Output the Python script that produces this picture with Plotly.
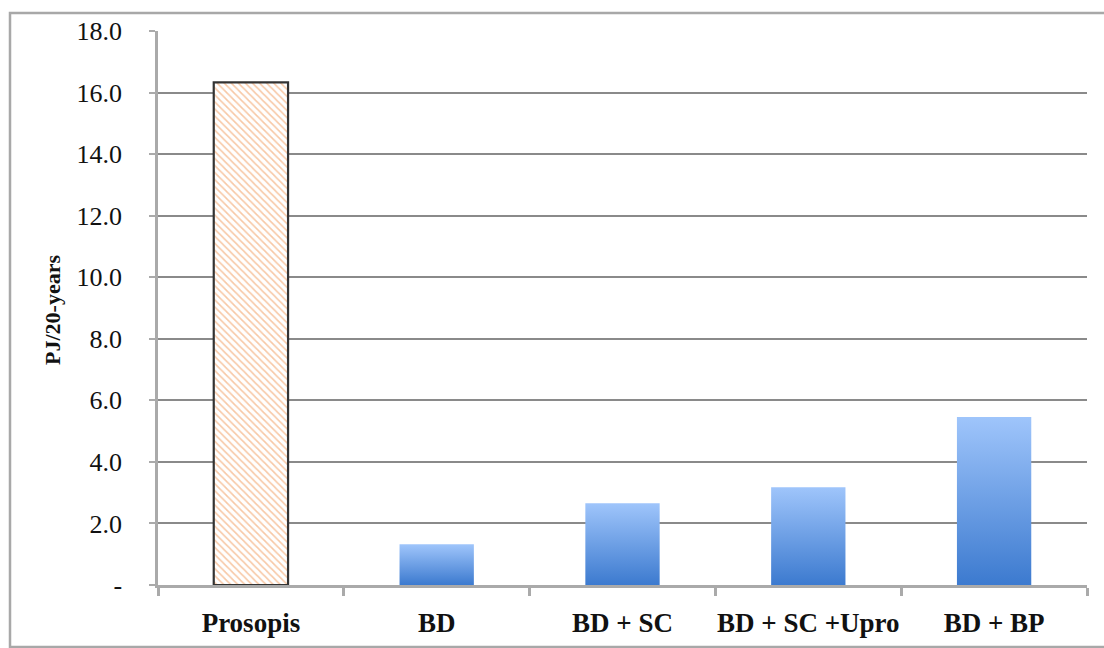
import plotly.graph_objects as go

categories = ["Prosopis", "BD", "BD + SC", "BD + SC +Upro", "BD + BP"]
values = [16.33, 1.32, 2.66, 3.18, 5.46]
y_ticks = [0, 2, 4, 6, 8, 10, 12, 14, 16, 18]
y_ticktext = ["-" if v == 0 else f"{v:.1f}" for v in y_ticks]

BAR_W = 0.4
xs = list(range(len(categories)))

fig = go.Figure()

# Prosopis bar: hatched
fig.add_trace(go.Bar(
    x=[xs[0]], y=[values[0]], width=BAR_W,
    marker=dict(color="white",
                line=dict(color="#333333", width=2.2),
                pattern=dict(shape="\\", fgcolor="#f0924e", bgcolor="white",
                             size=5, solidity=0.33)),
    showlegend=False, hoverinfo="x+y",
))

# Other bars: vertical blue gradient
for xi, v in zip(xs[1:], values[1:]):
    fig.add_trace(go.Scatter(
        x=[xi - BAR_W / 2, xi + BAR_W / 2, xi + BAR_W / 2, xi - BAR_W / 2, xi - BAR_W / 2],
        y=[0, 0, v, v, 0],
        mode="lines", line=dict(width=0, color="rgba(0,0,0,0)"),
        fill="toself",
        fillgradient=dict(type="vertical",
                          colorscale=[[0, "#3c7acf"], [1, "#9fc5fb"]]),
        showlegend=False, hoverinfo="skip",
    ))

fig.update_layout(
    width=1104, height=648,
    paper_bgcolor="white", plot_bgcolor="white",
    margin=dict(l=158, r=17, t=31, b=63, autoexpand=False),
    font=dict(family="Liberation Serif", color="#111"),
    showlegend=False,
    xaxis=dict(
        range=[-0.5, len(categories) - 0.5],
        tickvals=xs, ticktext=categories,
        ticks="", showgrid=False,
        tickfont=dict(family="Liberation Serif", size=27, color="#111", weight="bold"),
        ticklabelstandoff=12,
        showline=True, linecolor="#aaaaaa", linewidth=2.5,
        minor=dict(tickvals=[i - 0.5 for i in range(len(categories) + 1)],
                   ticks="outside", ticklen=8, tickcolor="#aaaaaa", tickwidth=2.5,
                   showgrid=False),
        zeroline=False, fixedrange=True, automargin=False,
    ),
    yaxis=dict(
        range=[0, 18],
        tickvals=y_ticks, ticktext=y_ticktext,
        ticks="outside", ticklen=6, tickcolor="#aaaaaa", tickwidth=2,
        tickfont=dict(family="Liberation Serif", size=26, color="#111"),
        ticklabelstandoff=22,
        showgrid=True, gridcolor="#8a8a8a", gridwidth=1.5,
        showline=True, linecolor="#aaaaaa", linewidth=2.5,
        zeroline=False, fixedrange=True, automargin=False,
    ),
    annotations=[dict(
        text="<b>PJ/20-years</b>", textangle=-90,
        xref="paper", yref="paper", x=(52 - 158) / 929, y=(585 - 310) / 554,
        xanchor="center", yanchor="middle", showarrow=False,
        font=dict(family="Liberation Serif", size=22, color="#111"),
    )],
    shapes=[dict(
        type="rect", xref="paper", yref="paper",
        x0=(10 - 158) / 929, x1=1.05,
        y0=(585 - 647) / 554, y1=(585 - 13) / 554,
        line=dict(color="#a8a8a8", width=2.5), fillcolor="rgba(0,0,0,0)",
        layer="below",
    )],
)

fig.write_html("out.html", config={"displayModeBar": False},
               post_script="document.body.style.margin='0';")
